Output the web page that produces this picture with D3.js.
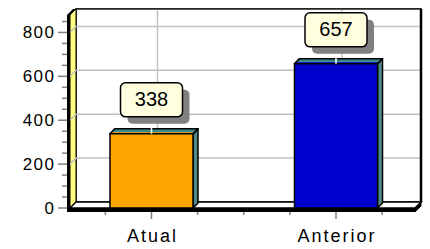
<!DOCTYPE html>
<html><head><meta charset="utf-8">
<script src="https://cdn.jsdelivr.net/npm/d3@7"></script>
<style>html,body{margin:0;padding:0;background:#fff;}svg{display:block;}</style>
</head><body>
<svg id="chart" width="430" height="249"></svg>
<script>
const categories = ["Atual", "Anterior"];
const values = [338, 657];
const barColors = ["#FFA500", "#0000CC"];
const yTickValues = [0, 200, 400, 600, 800];
const yMinorValues = [50,100,150,250,300,350,450,500,550,650,700,750,850];
const yMax = 880;

const svg = d3.select("#chart");
const D = 6;        // wall depth
const BD = 5;       // bar depth
const xL = 70, xR = 415;
const y = d3.scaleLinear().domain([0, yMax]).range([208, 14.9]);
const x = d3.scaleBand().domain(categories).range([59.25, 428.25]).paddingInner(0).paddingOuter(0);
const step = x.step();
const barW = step * 0.45;
const cx = c => x(c) + step / 2;
const y0 = y(0), yTop = y(yMax);
const pts = a => a.map(p => p.join(",")).join(" ");

// back wall
svg.append("rect").attr("x", xL + D).attr("y", yTop - D).attr("width", xR - xL).attr("height", y0 - yTop)
  .attr("fill", "#fff").attr("stroke", "#000").attr("stroke-width", 1.5);
// left wall
svg.append("polygon")
  .attr("points", pts([[xL, yTop], [xL + D, yTop - D], [xL + D, y0 - D], [xL, y0]]))
  .attr("fill", "#FFFF80").attr("stroke", "#000").attr("stroke-width", 1);

// gridlines
const grid = svg.append("g").attr("stroke", "#c0c0c0").attr("stroke-width", 1.5).attr("fill", "none");
yTickValues.filter(v => v > 0).forEach(v => {
  grid.append("line").attr("x1", xL + D).attr("x2", xR + D).attr("y1", y(v) - D).attr("y2", y(v) - D);
  grid.append("line").attr("x1", xL).attr("x2", xL + D).attr("y1", y(v)).attr("y2", y(v) - D);
});
categories.forEach(c => {
  grid.append("line").attr("x1", cx(c) + D).attr("x2", cx(c) + D).attr("y1", yTop - D + 1).attr("y2", y0 - D);
});
// right edge of back wall thicker
svg.append("line").attr("x1", xR + D).attr("x2", xR + D).attr("y1", yTop - D).attr("y2", y0 - D)
  .attr("stroke", "#000").attr("stroke-width", 2.5);

// floor top
svg.append("polygon")
  .attr("points", pts([[xL, y0], [xR, y0], [xR + D, y0 - D], [xL + D, y0 - D]]))
  .attr("fill", "#fff").attr("stroke", "#000").attr("stroke-width", 1.5);

// bars
categories.forEach((c, i) => {
  const v = values[i];
  const xl = cx(c) - barW / 2, xr = cx(c) + barW / 2, yv = y(v);
  const g = svg.append("g").attr("stroke", "#000").attr("stroke-width", 1.5).attr("stroke-linejoin", "round");
  g.append("polygon").attr("points", pts([[xr, yv], [xr + BD, yv - BD], [xr + BD, y0 - BD], [xr, y0]]))
    .attr("fill", "#4F8A8A");
  g.append("polygon").attr("points", pts([[xl, yv], [xl + BD, yv - BD], [xr + BD, yv - BD], [xr, yv]]))
    .attr("fill", barColors[i]);
  g.append("polygon").attr("points", pts([[xl + 1, yv - 1.5], [xl + BD, yv - BD], [xr + BD, yv - BD], [xr + 1, yv - 1.5]]))
    .attr("fill", "#3E8A8A").attr("stroke", "none");
  g.append("polygon").attr("points", pts([[xl, yv], [xl + BD, yv - BD], [xr + BD, yv - BD], [xr, yv]]))
    .attr("fill", "none");
  g.append("rect").attr("x", xl).attr("y", yv).attr("width", barW).attr("height", y0 - yv).attr("fill", barColors[i]);
});

// floor front slab
svg.append("rect").attr("x", xL - 3).attr("y", y0).attr("width", xR - xL + 3).attr("height", 4).attr("fill", "#000");
svg.append("polygon")
  .attr("points", pts([[xR, y0], [xR + D, y0 - D], [xR + D, y0 - D + 4], [xR, y0 + 4]]))
  .attr("fill", "#000").attr("stroke", "#000").attr("stroke-width", 1);
// left wall front slab
svg.append("rect").attr("x", xL - 3).attr("y", yTop).attr("width", 3).attr("height", y0 - yTop + 4).attr("fill", "#000");
svg.append("polygon")
  .attr("points", pts([[xL - 3, yTop], [xL - 3 + D, yTop - D], [xL + D, yTop - D], [xL, yTop]]))
  .attr("fill", "#000");

// y ticks
const tk = svg.append("g").attr("stroke", "#808080").attr("stroke-width", 1.5);
yTickValues.forEach(v => tk.append("line").attr("x1", 58).attr("x2", xL - 3).attr("y1", y(v)).attr("y2", y(v)));
yMinorValues.forEach(v => tk.append("line").attr("x1", 62).attr("x2", xL - 3).attr("y1", y(v)).attr("y2", y(v)));
// x ticks
for (let k = 1; k <= 7; k++) {
  const xx = x.range()[0] + k * step / 4;
  tk.append("line").attr("x1", xx).attr("x2", xx).attr("y1", y0 + 4).attr("y2", y0 + (k % 2 === 0 && k !== 4 ? 11 : 7));
}

// y tick labels
svg.append("g").selectAll("text").data(yTickValues).join("text")
  .attr("x", 55.5).attr("y", d => y(d)).attr("text-anchor", "end").attr("dominant-baseline", "central")
  .attr("font-family", "Liberation Sans, Arial").attr("font-size", 17).attr("letter-spacing", 1.5).attr("fill", "#000")
  .text(d => d);
// category labels
svg.append("g").selectAll("text").data(categories).join("text")
  .attr("x", d => cx(d) + 1).attr("y", 242).attr("text-anchor", "middle")
  .attr("font-family", "Liberation Sans, Arial").attr("font-size", 18).attr("letter-spacing", 2).attr("fill", "#000")
  .text(d => d);

// value labels
categories.forEach((c, i) => {
  const v = values[i], yv = y(v), bw = 62, bh = 34;
  const bx = cx(c) - bw / 2, by = yv - 51;
  svg.append("line").attr("x1", cx(c)).attr("x2", cx(c)).attr("y1", by + bh).attr("y2", yv)
    .attr("stroke", "#fff").attr("stroke-width", 1.5);
  svg.append("rect").attr("x", bx + 7).attr("y", by + 7).attr("width", bw).attr("height", bh).attr("rx", 5)
    .attr("fill", "#808080");
  svg.append("rect").attr("x", bx).attr("y", by).attr("width", bw).attr("height", bh).attr("rx", 5)
    .attr("fill", "#FFFFE0").attr("stroke", "#000").attr("stroke-width", 1.5);
  svg.append("text").attr("x", cx(c)).attr("y", by + bh / 2 - 1).attr("text-anchor", "middle")
    .attr("dominant-baseline", "central").attr("font-family", "Liberation Sans, Arial").attr("font-size", 20)
    .attr("fill", "#000").text(v);
});
</script>
</body></html>
